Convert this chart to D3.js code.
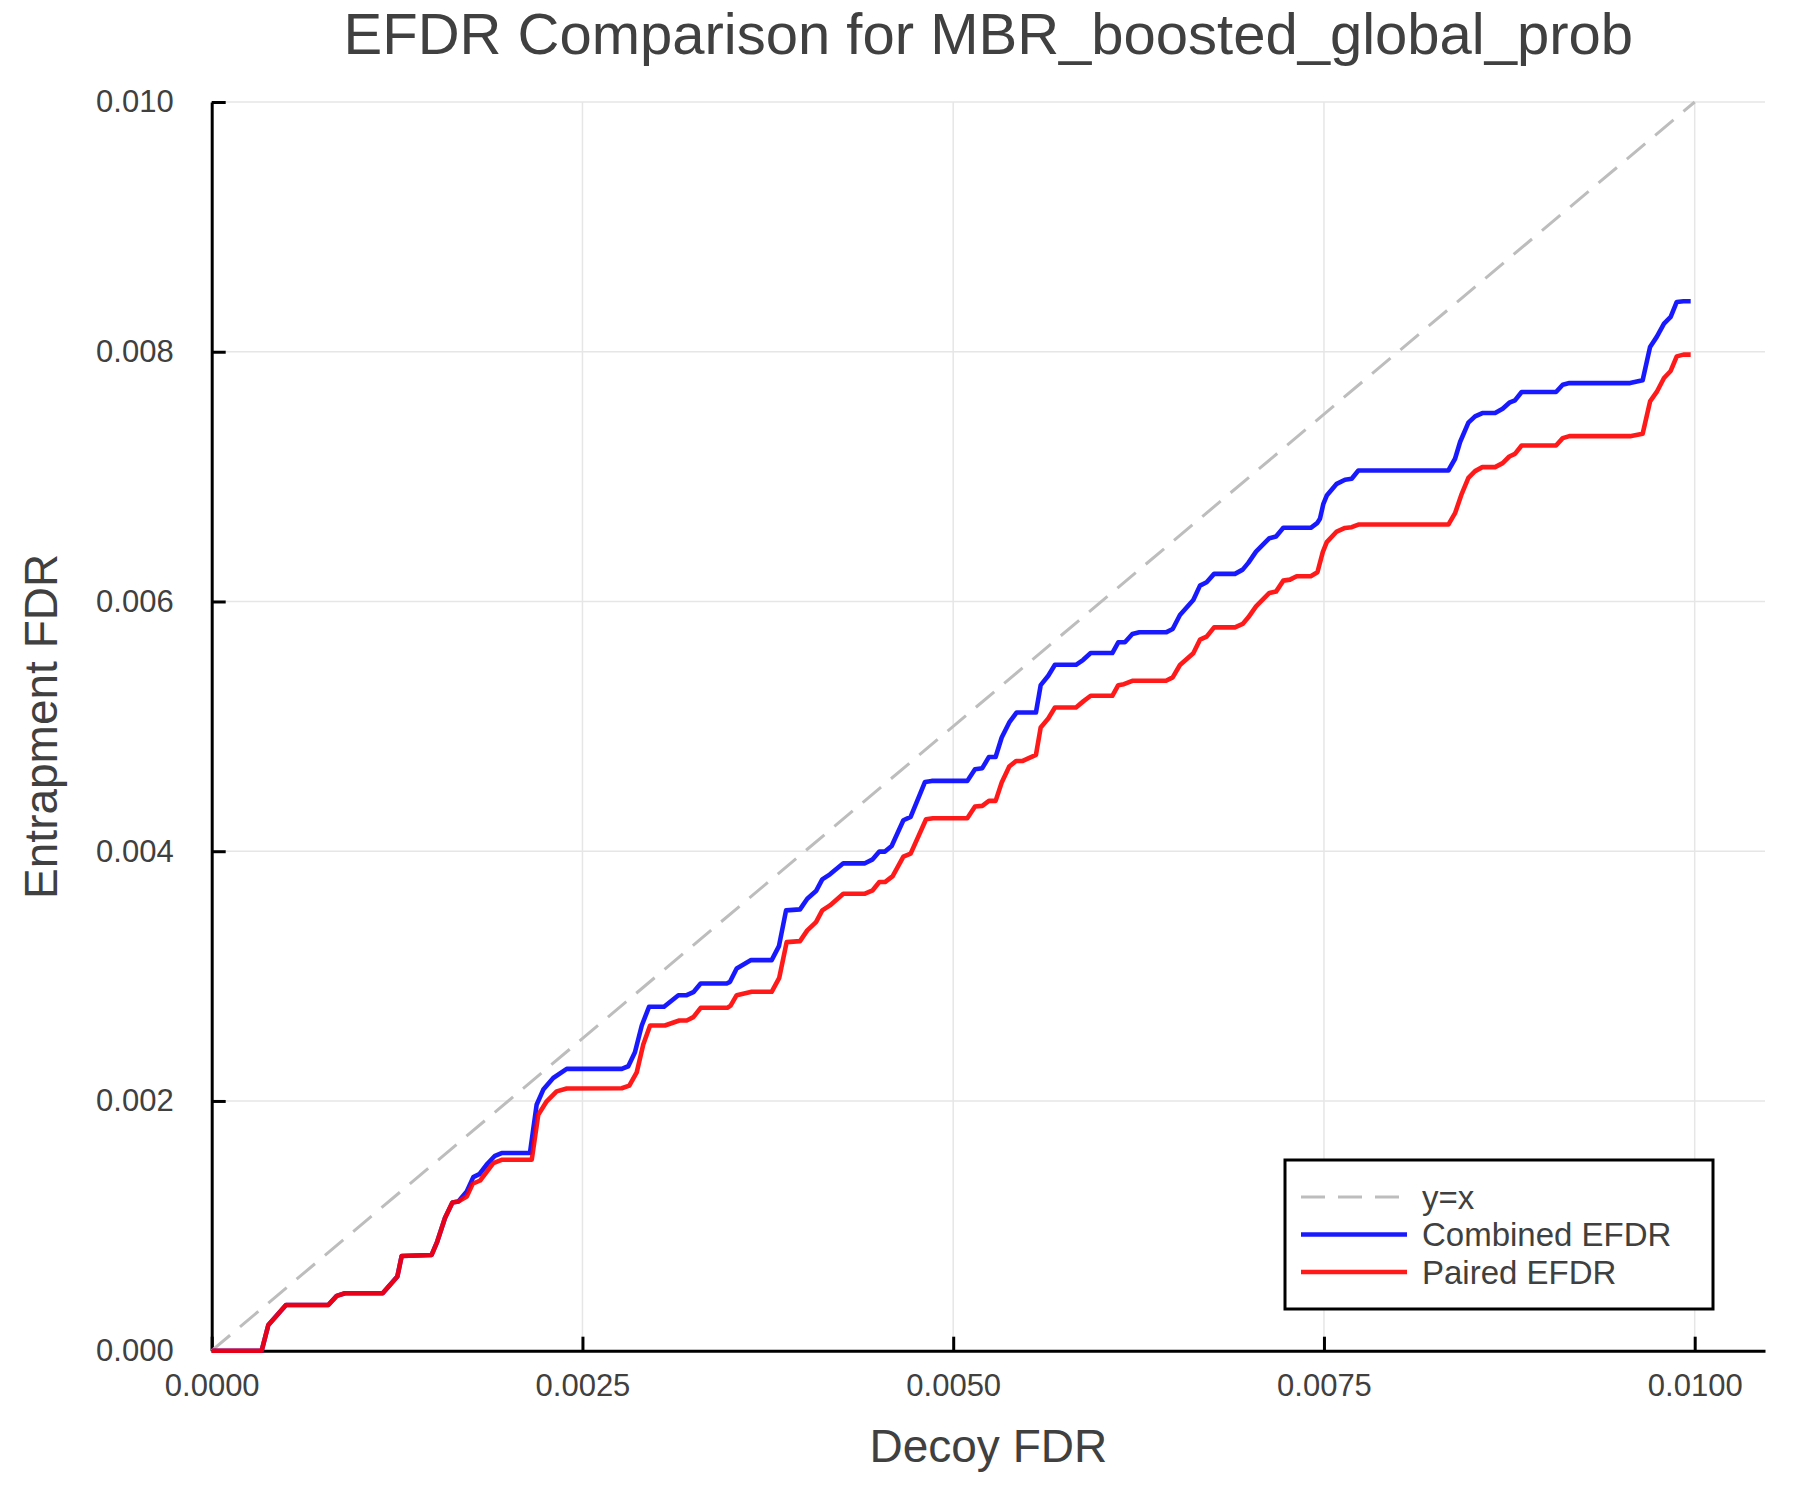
<!DOCTYPE html>
<html>
<head>
<meta charset="utf-8">
<script src="https://cdn.jsdelivr.net/npm/d3@7"></script>
<style>
  body { margin: 0; background: #fff; }
  text { font-family: "Liberation Sans", Arial, Helvetica, sans-serif; fill: #404040; }
</style>
</head>
<body>
<svg></svg>
<script>
// values, in units of 1e-3 (decoy FDR, entrapment FDR)
const combinedPts = [
    [0,0],[0.337,0],[0.382,0.206],[0.501,0.366],[0.786,0.366],[0.843,0.439],[0.899,0.460],[1.153,0.460],
    [1.252,0.594],[1.281,0.759],[1.483,0.767],[1.521,0.874],[1.573,1.062],[1.623,1.187],[1.663,1.195],
    [1.720,1.275],[1.764,1.390],[1.805,1.414],[1.859,1.497],[1.910,1.561],[1.955,1.583],[2.146,1.583],
    [2.191,1.970],[2.236,2.091],[2.303,2.184],[2.394,2.257],[2.765,2.257],[2.809,2.278],[2.854,2.390],
    [2.900,2.604],[2.949,2.754],[3.050,2.754],[3.147,2.847],[3.203,2.847],[3.248,2.871],[3.297,2.941],
    [3.473,2.941],[3.495,2.954],[3.540,3.061],[3.637,3.128],[3.776,3.128],[3.825,3.240],[3.873,3.526],
    [3.967,3.534],[4.016,3.620],[4.075,3.681],[4.117,3.775],[4.169,3.815],[4.259,3.903],[4.405,3.903],
    [4.457,3.935],[4.502,3.997],[4.540,3.997],[4.585,4.042],[4.664,4.248],[4.713,4.275],[4.810,4.555],
    [4.855,4.563],[5.095,4.563],[5.147,4.657],[5.196,4.665],[5.241,4.755],[5.286,4.755],[5.327,4.911],
    [5.378,5.031],[5.428,5.111],[5.558,5.111],[5.590,5.330],[5.641,5.405],[5.686,5.493],[5.828,5.493],
    [5.877,5.533],[5.927,5.587],[6.073,5.587],[6.113,5.673],[6.158,5.673],[6.208,5.739],[6.255,5.753],
    [6.435,5.753],[6.480,5.780],[6.529,5.892],[6.619,6.012],[6.664,6.127],[6.709,6.154],[6.759,6.221],
    [6.900,6.221],[6.952,6.255],[6.990,6.309],[7.042,6.399],[7.132,6.507],[7.177,6.520],[7.226,6.590],
    [7.411,6.590],[7.456,6.630],[7.473,6.662],[7.496,6.782],[7.519,6.848],[7.586,6.942],[7.642,6.975],
    [7.687,6.983],[7.732,7.049],[8.339,7.049],[8.384,7.143],[8.418,7.277],[8.474,7.432],[8.519,7.482],
    [8.568,7.509],[8.654,7.509],[8.705,7.544],[8.750,7.592],[8.788,7.611],[8.833,7.678],[9.065,7.678],
    [9.110,7.736],[9.155,7.749],[9.564,7.749],[9.649,7.771],[9.699,8.038],[9.744,8.119],[9.793,8.225],
    [9.838,8.279],[9.879,8.399],[9.924,8.404],[9.973,8.404]
];

const pairedPts = [
    [0,0],[0.337,0],[0.382,0.206],[0.501,0.366],[0.786,0.366],[0.843,0.439],[0.899,0.460],[1.153,0.460],
    [1.252,0.594],[1.281,0.759],[1.483,0.767],[1.521,0.874],[1.573,1.062],[1.623,1.187],[1.663,1.195],
    [1.720,1.235],[1.760,1.337],[1.810,1.363],[1.899,1.503],[1.955,1.529],[2.158,1.529],[2.202,1.890],
    [2.259,1.997],[2.326,2.077],[2.394,2.100],[2.765,2.102],[2.816,2.123],[2.866,2.229],[2.910,2.452],
    [2.956,2.604],[3.056,2.604],[3.153,2.644],[3.203,2.644],[3.248,2.671],[3.297,2.746],[3.477,2.746],
    [3.499,2.764],[3.540,2.847],[3.641,2.874],[3.776,2.874],[3.827,2.986],[3.877,3.272],[3.967,3.280],
    [4.016,3.366],[4.075,3.432],[4.117,3.526],[4.169,3.566],[4.259,3.660],[4.405,3.660],[4.457,3.687],
    [4.502,3.753],[4.540,3.753],[4.592,3.801],[4.664,3.957],[4.713,3.981],[4.817,4.256],[4.863,4.264],
    [5.095,4.264],[5.147,4.358],[5.196,4.363],[5.241,4.403],[5.286,4.403],[5.327,4.550],[5.378,4.678],
    [5.424,4.723],[5.469,4.723],[5.558,4.771],[5.590,4.991],[5.641,5.063],[5.686,5.151],[5.828,5.151],
    [5.877,5.200],[5.927,5.245],[6.073,5.245],[6.113,5.330],[6.151,5.338],[6.208,5.365],[6.435,5.365],
    [6.480,5.392],[6.529,5.491],[6.619,5.585],[6.664,5.694],[6.709,5.718],[6.759,5.793],[6.900,5.793],
    [6.952,5.820],[6.990,5.873],[7.042,5.961],[7.132,6.068],[7.177,6.079],[7.226,6.167],[7.271,6.175],
    [7.316,6.202],[7.411,6.202],[7.456,6.234],[7.492,6.395],[7.519,6.475],[7.586,6.560],[7.642,6.589],
    [7.687,6.595],[7.732,6.616],[8.339,6.616],[8.384,6.707],[8.429,6.862],[8.474,6.990],[8.519,7.044],
    [8.568,7.076],[8.654,7.076],[8.705,7.108],[8.750,7.161],[8.788,7.182],[8.833,7.249],[9.065,7.249],
    [9.110,7.308],[9.155,7.324],[9.564,7.324],[9.649,7.343],[9.699,7.602],[9.744,7.678],[9.793,7.790],
    [9.838,7.846],[9.879,7.963],[9.924,7.977],[9.973,7.977]
];

const identityPts = [[0, 0], [10, 10]];

const xTicks = [0, 0.0025, 0.005, 0.0075, 0.01];
const yTicks = [0, 0.002, 0.004, 0.006, 0.008, 0.010];

const legendNames = ["y=x", "Combined EFDR", "Paired EFDR"];

const toFdr = pts => pts.map(p => ({x: p[0] / 1000, y: p[1] / 1000}));

// layout
const W = 1800, H = 1500;
const plotLeft = 211.7, plotRight = 1765, plotTop = 102, plotBottom = 1350.7;

const svg = d3.select("svg")
    .attr("width", W)
    .attr("height", H);

const x = d3.scaleLinear()
    .domain([0, 0.010474])
    .range([plotLeft, plotRight]);

const y = d3.scaleLinear()
    .domain([0, 0.010])
    .range([plotBottom, plotTop]);

// grid
svg.append("g")
    .selectAll("line")
    .data(xTicks.slice(1))
    .join("line")
    .attr("x1", d => x(d)).attr("x2", d => x(d))
    .attr("y1", plotBottom).attr("y2", plotTop)
    .attr("stroke", "#e6e6e6")
    .attr("stroke-width", 1.5);

svg.append("g")
    .selectAll("line")
    .data(yTicks.slice(1))
    .join("line")
    .attr("x1", plotLeft).attr("x2", plotRight)
    .attr("y1", d => y(d)).attr("y2", d => y(d))
    .attr("stroke", "#e6e6e6")
    .attr("stroke-width", 1.5);

// axes (inward ticks)
const xAxis = svg.append("g")
    .attr("transform", `translate(0,${plotBottom})`)
    .call(d3.axisBottom(x).tickValues(xTicks).tickFormat(d3.format(".4f"))
        .tickSizeInner(-14).tickSizeOuter(0).tickPadding(23));

const yAxis = svg.append("g")
    .attr("transform", `translate(${plotLeft},0)`)
    .call(d3.axisLeft(y).tickValues(yTicks).tickFormat(d3.format(".3f"))
        .tickSizeInner(-14).tickSizeOuter(0).tickPadding(38));

[xAxis, yAxis].forEach(a => {
    a.attr("font-size", null).attr("font-family", null);
    a.select(".domain").attr("stroke", "#000").attr("stroke-width", 3);
    a.selectAll(".tick line").attr("stroke", "#000").attr("stroke-width", 3);
    a.selectAll(".tick text")
        .style("font-size", "31px")
        .attr("fill", "#404040");
});

// lines
const line = d3.line()
    .x(d => x(d.x))
    .y(d => y(d.y));

svg.append("path")
    .datum(toFdr(identityPts))
    .attr("d", line)
    .attr("fill", "none")
    .attr("stroke", "#bdbdbd")
    .attr("stroke-width", 3)
    .attr("stroke-dasharray", "24 13");

svg.append("path")
    .datum(toFdr(combinedPts))
    .attr("d", line)
    .attr("fill", "none")
    .attr("stroke", "#0000ff")
    .attr("stroke-opacity", 0.9)
    .attr("stroke-width", 4.6)
    .attr("stroke-linejoin", "round");

svg.append("path")
    .datum(toFdr(pairedPts))
    .attr("d", line)
    .attr("fill", "none")
    .attr("stroke", "#ff0000")
    .attr("stroke-opacity", 0.9)
    .attr("stroke-width", 4.6)
    .attr("stroke-linejoin", "round");

// titles
svg.append("text")
    .attr("x", (plotLeft + plotRight) / 2)
    .attr("y", 54)
    .attr("text-anchor", "middle")
    .style("font-size", "58px")
    .text("EFDR Comparison for MBR_boosted_global_prob");

svg.append("text")
    .attr("x", (plotLeft + plotRight) / 2)
    .attr("y", 1462)
    .attr("text-anchor", "middle")
    .style("font-size", "46px")
    .text("Decoy FDR");

svg.append("text")
    .attr("transform", `translate(57,${(plotTop + plotBottom) / 2}) rotate(-90)`)
    .attr("text-anchor", "middle")
    .style("font-size", "46px")
    .text("Entrapment FDR");

// legend
const legendStyles = [
    {stroke: "#bdbdbd", dash: "24 13", width: 3, opacity: 1},
    {stroke: "#0000ff", dash: null, width: 4.6, opacity: 0.9},
    {stroke: "#ff0000", dash: null, width: 4.6, opacity: 0.9}
];

const legend = svg.append("g");

legend.append("rect")
    .attr("x", 1285).attr("y", 1160)
    .attr("width", 428).attr("height", 149)
    .attr("fill", "#fff")
    .attr("stroke", "#000")
    .attr("stroke-width", 3);

const items = legend.selectAll(".item")
    .data(legendNames)
    .join("g")
    .attr("class", "item")
    .attr("transform", (d, i) => `translate(0,${1197 + i * 37.5})`);

items.append("line")
    .attr("x1", 1301).attr("x2", 1407)
    .attr("stroke", (d, i) => legendStyles[i].stroke)
    .attr("stroke-width", (d, i) => legendStyles[i].width)
    .attr("stroke-opacity", (d, i) => legendStyles[i].opacity)
    .attr("stroke-dasharray", (d, i) => legendStyles[i].dash);

items.append("text")
    .attr("x", 1422)
    .attr("dy", "0.35em")
    .style("font-size", "33px")
    .text(d => d);
</script>
</body>
</html>
